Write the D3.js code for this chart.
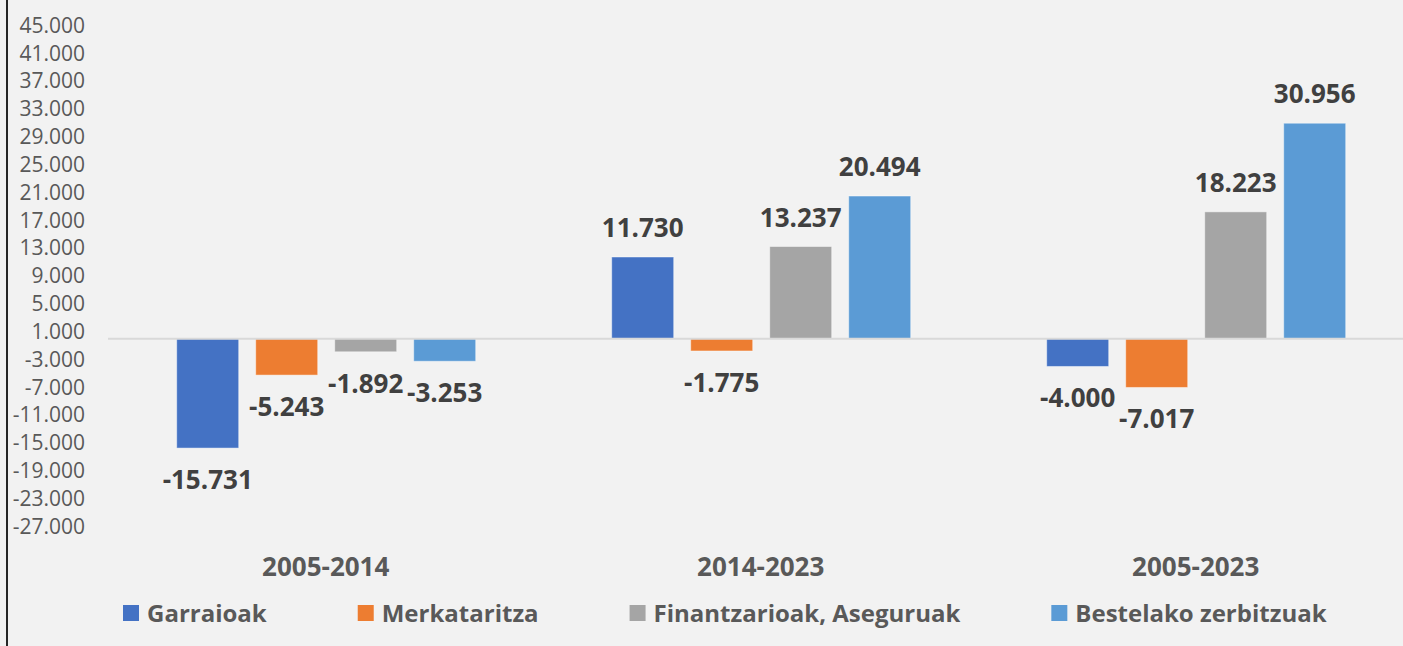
<!DOCTYPE html>
<html>
<head>
<meta charset="utf-8">
<script src="https://cdn.jsdelivr.net/npm/d3@7"></script>
<style>
  html, body { margin: 0; padding: 0; background: #f2f2f2; }
  svg { display: block; font-family: "Open Sans", sans-serif; }
</style>
</head>
<body>
<div id="chart"></div>
<script>
// periods on the x axis
const categories = ["2005-2014", "2014-2023", "2005-2023"];
// sectors (legend order)
const seriesNames = ["Garraioak", "Merkataritza", "Finantzarioak, Aseguruak", "Bestelako zerbitzuak"];
const seriesColors = ["#4472c4", "#ed7d31", "#a5a5a5", "#5b9bd5"];
// values per period
const garraioak = [-15731, 11730, -4000];
const merkataritza = [-5243, -1775, -7017];
const finantzarioak = [-1892, 13237, 18223];
const bestelako = [-3253, 20494, 30956];
// y axis ticks
const yTicks = [45000, 41000, 37000, 33000, 29000, 25000, 21000, 17000, 13000, 9000, 5000, 1000,
  -3000, -7000, -11000, -15000, -19000, -23000, -27000];

const allSeries = [garraioak, merkataritza, finantzarioak, bestelako];

const width = 1403;
const height = 646;

const locale = d3.formatLocale({decimal: ",", thousands: ".", grouping: [3], currency: ["", "€"], minus: "-"});
const fmt = locale.format(",.0f");

const svg = d3.select("#chart").append("svg")
  .attr("width", width)
  .attr("height", height);

svg.append("rect")
  .attr("width", width)
  .attr("height", height)
  .attr("fill", "#f2f2f2");

// left frame edge
svg.append("line")
  .attr("x1", 7).attr("x2", 7)
  .attr("y1", 0).attr("y2", height)
  .attr("stroke", "#262626")
  .attr("stroke-width", 2);

const y = d3.scaleLinear()
  .domain([-27000, 45000])
  .range([526.5, 25.5]);

const x0 = d3.scaleBand()
  .domain(categories)
  .range([108.7, 1413.7]);

const x1 = d3.scaleBand()
  .domain(d3.range(seriesNames.length))
  .range([68, 367])
  .paddingInner(17 / 79);

// y axis labels
const yAxis = d3.axisLeft(y)
  .tickValues(yTicks)
  .tickSize(0)
  .tickPadding(3)
  .tickFormat(fmt);

svg.append("g")
  .attr("transform", "translate(88,0)")
  .call(yAxis)
  .call(g => g.select(".domain").remove())
  .selectAll("text")
  .attr("fill", "#595959")
  .style("font-family", "'Open Sans', sans-serif")
  .style("font-size", "21px");

// bars
const groups = svg.selectAll("g.group")
  .data(categories)
  .enter()
  .append("g")
  .attr("class", "group")
  .attr("transform", d => "translate(" + x0(d) + ",0)");

groups.selectAll("rect")
  .data((d, ci) => allSeries.map((s, si) => ({si: si, value: s[ci]})))
  .enter()
  .append("rect")
  .attr("x", d => x1(d.si))
  .attr("width", x1.bandwidth())
  .attr("y", d => y(Math.max(0, d.value)))
  .attr("height", d => Math.abs(y(d.value) - y(0)))
  .attr("fill", d => seriesColors[d.si])
  .attr("stroke", "rgba(255,255,255,0.45)")
  .attr("stroke-width", 1);

// zero line
svg.append("line")
  .attr("x1", 108).attr("x2", width)
  .attr("y1", y(0)).attr("y2", y(0))
  .attr("stroke", "#d9d9d9")
  .attr("stroke-width", 2);

// data labels
groups.selectAll("text.value")
  .data((d, ci) => allSeries.map((s, si) => ({si: si, value: s[ci]})))
  .enter()
  .append("text")
  .attr("class", "value")
  .attr("x", d => x1(d.si) + x1.bandwidth() / 2)
  .attr("y", d => d.value >= 0 ? y(d.value) - 20 : y(d.value) + 41)
  .attr("text-anchor", "middle")
  .attr("fill", "#404040")
  .style("font-size", "26px")
  .style("font-weight", "bold")
  .text(d => fmt(d.value));

// category labels
svg.selectAll("text.cat")
  .data(categories)
  .enter()
  .append("text")
  .attr("class", "cat")
  .attr("x", d => x0(d) + x0.bandwidth() / 2 - 0.5)
  .attr("y", 575.5)
  .attr("text-anchor", "middle")
  .attr("fill", "#595959")
  .style("font-size", "26px")
  .style("font-weight", "bold")
  .text(d => d);

// legend
const legend = svg.append("g").attr("class", "legend");
let lx = 123;
seriesNames.forEach(function(name, i) {
  legend.append("rect")
    .attr("x", lx)
    .attr("y", 605)
    .attr("width", 16)
    .attr("height", 16)
    .attr("fill", seriesColors[i]);
  const t = legend.append("text")
    .attr("x", lx + 24)
    .attr("y", 621.5)
    .attr("fill", "#595959")
    .style("font-size", "24px")
    .style("font-weight", "bold")
    .text(name);
  lx += 24 + t.node().getComputedTextLength() + 91;
});
</script>
</body>
</html>
